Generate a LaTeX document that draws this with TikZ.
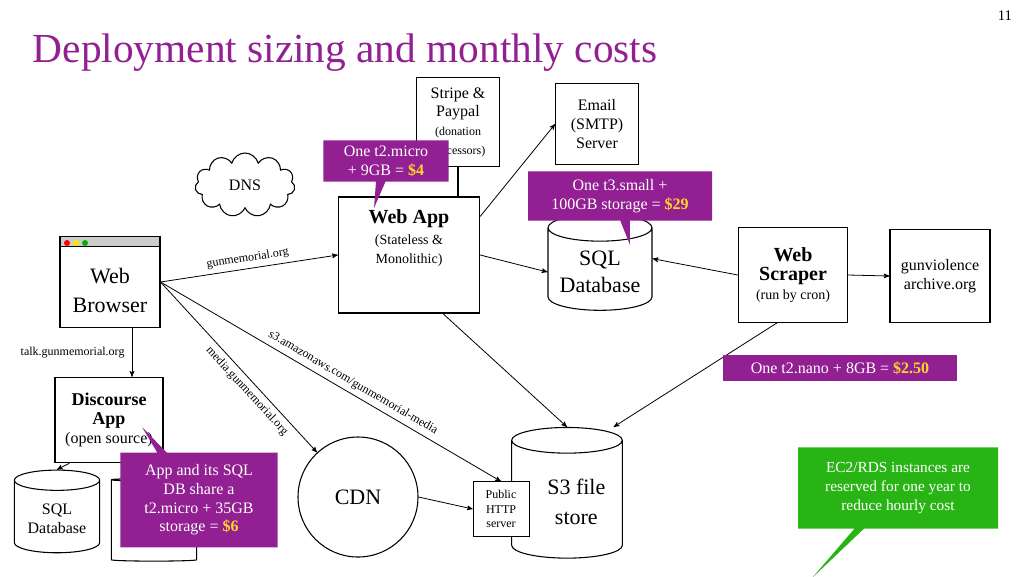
\documentclass[tikz,border=0pt]{standalone}
\usepackage{fontspec}
\setmainfont{Liberation Serif}
\usetikzlibrary{arrows,shapes.geometric,shapes.symbols,shapes.callouts}
\definecolor{slidepurple}{RGB}{146,32,146}
\definecolor{pricegold}{RGB}{255,214,40}
\definecolor{notegreen}{RGB}{40,180,20}
\newcommand{\price}[1]{\textcolor{pricegold}{\textbf{#1}}}

\begin{document}
\begin{tikzpicture}[x=0.75pt,y=-0.75pt,->,>=stealth',semithick,
                    font=\fontsize{12}{14}\selectfont]

  \tikzstyle{box}=[rectangle,draw,thick,align=center,inner sep=2pt]
  \tikzstyle{db}=[cylinder,draw,thick,shape border rotate=90,aspect=0.3,
                  align=center]
  \tikzstyle{note}=[rectangle callout,fill=slidepurple,text=white,align=center,
                    inner sep=3pt]
  \tikzstyle{url}=[font=\fontsize{9}{10}\selectfont,sloped]

  \useasboundingbox (0,0) rectangle (1024,576);

  \node[anchor=base west,text=slidepurple,font=\fontsize{31}{34}\selectfont]
       (title) at (28,62) {Deployment sizing and monthly costs};
  \node[font=\fontsize{11}{12}\selectfont] (page) at (1005,16) {11};

  \node[box,minimum width=62pt,minimum height=67pt] (stripe) at (458,122)
       {Stripe \&\\Paypal\\{\fontsize{9}{11}\selectfont(donation}\\{\fontsize{9}{11}\selectfont processors)}};
  \node[box,minimum width=62pt,minimum height=61pt] (email) at (597,124)
       {Email\\(SMTP)\\Server};
  \node[cloud,draw,thick,cloud puffs=11,aspect=1.6,minimum width=75pt,
        minimum height=48pt] (dns) at (245,185) {DNS};

  \node[box,fill=white,minimum width=106pt,minimum height=87pt] (webapp) at (409,255)
       {{\fontsize{15}{18}\selectfont\textbf{Web App}}\\[2pt]
        {\fontsize{10.5}{13}\selectfont(Stateless \&}\\{\fontsize{10.5}{13}\selectfont Monolithic)}\\[14pt]};
  \node[db,minimum width=78pt,minimum height=72pt,font=\fontsize{16.5}{20}\selectfont]
       (sqldb) at (600,272) {SQL\\Database};
  \node[box,minimum width=82pt,minimum height=71pt] (scraper) at (793,275)
       {{\fontsize{15}{18}\selectfont\textbf{Web}}\\{\fontsize{15}{20}\selectfont\textbf{Scraper}}\\{\fontsize{10.5}{13}\selectfont(run by cron)}};
  \node[box,minimum width=75pt,minimum height=70pt] (gva) at (940,276)
       {gunviolence\\archive.org};

  \node[box,minimum width=75pt,minimum height=68pt,font=\fontsize{16.5}{22}\selectfont]
       (browser) at (110,282) {\\[2pt]Web\\Browser};
  \fill[gray!40] ([shift={(1pt,-1pt)}]browser.north west) rectangle
       ([shift={(-1pt,-8pt)}]browser.north east);
  \draw[-,thick] ([yshift=-8pt]browser.north west) -- ([yshift=-8pt]browser.north east);
  \foreach \c [count=\i] in {red,yellow!90!orange,green!70!black}
    \fill[\c] (58+\i*9,243) circle (3);

  \node[box,minimum width=81pt,minimum height=64pt] (discourse) at (109,420)
       {{\fontsize{13.5}{17}\selectfont\textbf{Discourse}}\\{\fontsize{13.5}{17}\selectfont\textbf{App}}\\(open source)};
  \node[db,minimum width=64pt,minimum height=62pt] (forumdb) at (57,519) {SQL\\Database};
  \node[db,minimum width=64pt,minimum height=62pt] (forumdb2) at (154,521) {};

  \node[circle,draw,thick,minimum size=90pt,font=\fontsize{16.5}{20}\selectfont]
       (cdn) at (358,497) {CDN};
  \node[db,minimum width=83pt,minimum height=98pt,font=\fontsize{16.5}{22}\selectfont]
       (s3) at (567,502) {\hspace{14pt}S3 file\\\hspace{14pt}store};
  \node[box,fill=white,thin,minimum width=42pt,minimum height=41pt,
        font=\fontsize{9}{11}\selectfont,inner sep=1pt] (http) at (501,509)
       {Public\\HTTP\\server};

  % connectors
  \draw[-,thick] (webapp.north -| stripe.south) -- (stripe.south);
  \draw (browser.east) -- node[url,above] {gunmemorial.org} (webapp.west);
  \draw (browser.east) -- node[url,below,pos=0.6] {media.gunmemorial.org} (cdn);
  \draw (browser.east) -- node[url,above,pos=0.55] {s3.amazonaws.com/gunmemorial-media} (http.north);
  \draw (browser.south -| discourse.north) ++(23,0) coordinate (talk)
        -- (talk |- discourse.north)
        node[midway,left,font=\fontsize{9}{10}\selectfont,xshift=-2pt] {talk.gunmemorial.org};
  \draw (discourse.south west) ++(15,0) -- (forumdb.north);
  \draw (webapp.east) -- (sqldb.west);
  \draw ([yshift=-15pt]webapp.north east) -- (email.west);
  \draw ([xshift=-28pt]webapp.south east) -- (s3.north);
  \draw (scraper.west) -- ([yshift=10pt]sqldb.east);
  \draw ([xshift=-12pt]scraper.south) -- ([xshift=35pt]s3.north);
  \draw (scraper.east) -- (gva.west);
  \draw (cdn.east) -- (http.west);

  % cost notes
  \node[note,minimum width=94pt,minimum height=31pt,callout absolute pointer={(374,208)}]
       (noteweb) at (386,161) {One t2.micro\\+ 9GB = \price{\$4}};
  \node[note,minimum width=138pt,minimum height=37pt,callout absolute pointer={(630,245)}]
       (notesql) at (620,196) {One t3.small +\\100GB storage = \price{\$29}};
  \node[rectangle,fill=slidepurple,text=white,minimum width=176pt,minimum height=20pt,
        inner sep=1pt] (notescraper) at (840,368) {One t2.nano + 8GB = \price{\$2.50}};
  \node[note,minimum width=118pt,minimum height=71pt,callout absolute pointer={(142,427)}]
       (noteforum) at (199,500) {App and its SQL\\DB share a\\t2.micro + 35GB\\storage = \price{\$6}};
  \node[note,fill=notegreen,minimum width=150pt,minimum height=61pt,
        callout absolute pointer={(812,578)},font=\fontsize{11.5}{14}\selectfont]
       (notereserved) at (898,488) {EC2/RDS instances are\\reserved for one year to\\reduce hourly cost};
\end{tikzpicture}
\end{document}
